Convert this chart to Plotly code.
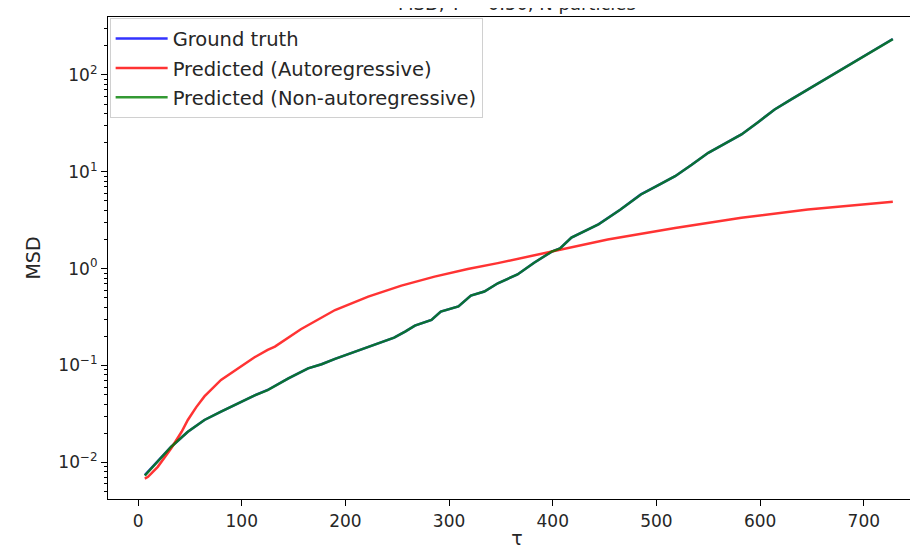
import math
import plotly.graph_objects as go

# ---- data ----
tau_green = [6.5, 19, 32, 48, 64, 80, 96, 112, 125, 145, 164, 177, 190, 202, 219, 233, 247, 258, 267,
             283, 292, 309, 321, 334, 347, 366, 382, 399, 407, 418, 432, 444, 465, 485, 501, 518, 534,
             550, 566, 582, 598, 614, 630, 646, 662, 678, 694, 710, 728]
msd_green = [0.0073, 0.0102, 0.0145, 0.0207, 0.0274, 0.0334, 0.0407, 0.049, 0.0558, 0.0738, 0.0935, 0.103,
             0.117, 0.130, 0.151, 0.170, 0.194, 0.225, 0.258, 0.295, 0.36, 0.407, 0.528, 0.58, 0.707, 0.87,
             1.15, 1.50, 1.62, 2.09, 2.5, 2.86, 4.05, 5.83, 7.2, 9.0, 11.8, 15.7, 19.5, 24.3, 32.5, 44, 56,
             70.8, 90, 114, 143, 182, 234]

tau_truth = tau_green
msd_truth = [0.0074, 0.0102, 0.0145, 0.0207, 0.0274, 0.0335, 0.0408, 0.049, 0.0559, 0.0738, 0.0936, 0.103,
             0.117, 0.130, 0.151, 0.171, 0.194, 0.225, 0.258, 0.296, 0.36, 0.407, 0.528, 0.58, 0.707, 0.87,
             1.15, 1.50, 1.62, 2.09, 2.5, 2.87, 4.05, 5.84, 7.2, 9.0, 11.8, 15.7, 19.5, 24.3, 32.5, 44, 56,
             70.8, 90, 114, 143, 183, 235]

tau_red = [6.5, 9.6, 19, 32, 42, 48, 56, 64, 80, 96, 112, 125, 132, 157, 190, 222, 254, 286, 318, 347,
           399, 453, 518, 582, 646, 690, 728]
msd_red = [0.0068, 0.0071, 0.0090, 0.0140, 0.0207, 0.0274, 0.037, 0.048, 0.071, 0.0935, 0.121, 0.145,
           0.157, 0.237, 0.374, 0.515, 0.668, 0.828, 0.993, 1.14, 1.50, 2.0, 2.63, 3.36, 4.07, 4.5, 4.9]

x_ticks = [0, 100, 200, 300, 400, 500, 600, 700]
y_ticks = [0.01, 0.1, 1, 10, 100]
y_tick_labels = ["10<sup>−2</sup>", "10<sup>−1</sup>", "10<sup>0</sup>", "10<sup>1</sup>", "10<sup>2</sup>"]
y_minor = [m * 10.0 ** e for e in range(-3, 3) for m in range(2, 10)]
title_text = "MSD, T = 0.50, N particles"

FONT = "DejaVu Sans"
TXT = "#262626"
Y_RANGE = [-2.378, 2.598]

fig = go.Figure()
fig.add_trace(go.Scatter(x=tau_truth, y=msd_truth, mode="lines", name="Ground truth",
                         legendgroup="a", line=dict(color="rgba(0,0,255,0.8)", width=2.5)))
fig.add_trace(go.Scatter(x=tau_red, y=msd_red, mode="lines", name="Predicted (Autoregressive)",
                         legendgroup="b", line=dict(color="rgba(255,0,0,0.8)", width=2.5)))
fig.add_trace(go.Scatter(x=tau_green, y=msd_green, mode="lines", name="Predicted (Non-autoregressive)",
                         legendgroup="c", line=dict(color="rgba(0,128,0,0.8)", width=2.5)))
# transparent copy on a linear (log10-space) overlay axis, used only to draw the minor log ticks
fig.add_trace(go.Scatter(x=tau_truth, y=[math.log10(v) for v in msd_truth], mode="lines",
                         yaxis="y2", showlegend=False, hoverinfo="skip",
                         line=dict(color="rgba(0,0,0,0)", width=1)))

fig.update_layout(
    width=918, height=553,
    margin=dict(l=100, r=0, t=9, b=62),
    paper_bgcolor="white", plot_bgcolor="white",
    font=dict(family=FONT, size=17, color=TXT),
    showlegend=True,
    legend=dict(x=0.002, y=0.997, xanchor="left", yanchor="top",
                bgcolor="white", bordercolor="#d0d0d0", borderwidth=1,
                font=dict(family=FONT, size=19.5, color=TXT),
                tracegroupgap=1, itemwidth=52),
    annotations=[dict(text=title_text, xref="paper", yref="paper", x=0.5, y=1,
                      xanchor="center", yanchor="bottom", yshift=1, showarrow=False,
                      font=dict(family=FONT, size=18, color=TXT))],
    yaxis2=dict(type="linear", range=Y_RANGE, overlaying="y", side="left", anchor="x",
                tickmode="array", tickvals=[math.log10(v) for v in y_minor],
                showticklabels=False, ticks="outside", ticklen=3.5,
                tickwidth=1, tickcolor="black", showgrid=False, zeroline=False, showline=False),
)
fig.update_xaxes(
    range=[-29, 760], tickvals=x_ticks, ticktext=[str(v) for v in x_ticks],
    showgrid=False, zeroline=False,
    showline=True, linecolor="black", linewidth=1.2, mirror=True,
    ticks="outside", ticklen=6, tickwidth=1.2, tickcolor="black",
    tickfont=dict(family=FONT, size=17, color=TXT),
    title=dict(text="τ", font=dict(family=FONT, size=19, color=TXT), standoff=2),
)
fig.layout.yaxis.update(
    type="log", range=Y_RANGE, tickvals=y_ticks, ticktext=y_tick_labels,
    showgrid=False, zeroline=False,
    showline=True, linecolor="black", linewidth=1.2, mirror=True,
    ticks="outside", ticklen=6, tickwidth=1.2, tickcolor="black",
    tickfont=dict(family=FONT, size=17, color=TXT),
    title=dict(text="MSD", font=dict(family=FONT, size=19, color=TXT), standoff=12),
)

fig.write_html("out.html")
